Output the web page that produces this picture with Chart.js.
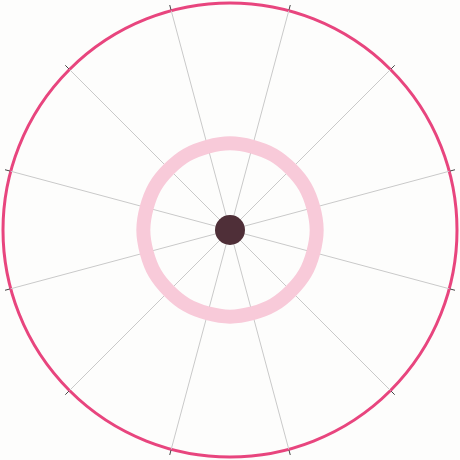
<!DOCTYPE html>
<html>
<head>
<meta charset="utf-8">
<script src="https://cdn.jsdelivr.net/npm/chart.js@4"></script>
<style>
  body { margin: 0; background: #fdfdfc; }
  #wrap { width: 460px; height: 460px; }
</style>
</head>
<body>
<div id="wrap"><canvas id="dial"></canvas></div>
<script>
// twelve spokes, first one 15 degrees right of top
const spokes = ['1', '2', '3', '4', '5', '6', '7', '8', '9', '10', '11', '12'];
const ringValues = [38, 38, 38, 38, 38, 38, 38, 38, 38, 38, 38, 38];
const tickValues = [101.5, 101.5, 101.5, 101.5, 101.5, 101.5, 101.5, 101.5, 101.5, 101.5, 101.5, 101.5];
const hubValues = [0];
const startAngle = 15;

window.onload = () => {
  const ctx = document.getElementById('dial').getContext('2d');

  new Chart(ctx, {
    type: 'radar',
    data: {
      labels: spokes,
      datasets: [
        {
          label: 'hub',
          data: hubValues,
          showLine: false,
          fill: false,
          backgroundColor: 'transparent',
          pointRadius: 15,
          pointHoverRadius: 15,
          pointBackgroundColor: '#4f2f38',
          pointBorderWidth: 0,
          order: 0
        },
        {
          label: 'ticks',
          data: tickValues,
          showLine: false,
          fill: false,
          backgroundColor: 'transparent',
          clip: false,
          pointStyle: 'line',
          pointRadius: 2.5,
          pointBorderWidth: 1,
          pointBorderColor: '#444',
          rotation: c => startAngle + c.dataIndex * 30 + 90,
          order: 1
        },
        {
          label: 'ring',
          data: ringValues,
          borderColor: '#f8cad9',
          borderWidth: 14,
          backgroundColor: 'transparent',
          fill: false,
          tension: 0.4,
          pointRadius: 0,
          order: 2
        }
      ]
    },
    options: {
      responsive: true,
      maintainAspectRatio: false,
      animation: false,
      layout: { padding: 3 },
      plugins: {
        legend: { display: false },
        tooltip: { enabled: false }
      },
      scales: {
        r: {
          min: 0,
          max: 100,
          startAngle: startAngle,
          ticks: { display: false, stepSize: 50 },
          pointLabels: { display: false },
          angleLines: { color: '#c9c9c9', lineWidth: 1 },
          grid: {
            circular: true,
            lineWidth: 3,
            color: c => c.tick && c.tick.value === 100 ? '#e8457e' : 'transparent'
          }
        }
      }
    }
  });
};
</script>
</body>
</html>
